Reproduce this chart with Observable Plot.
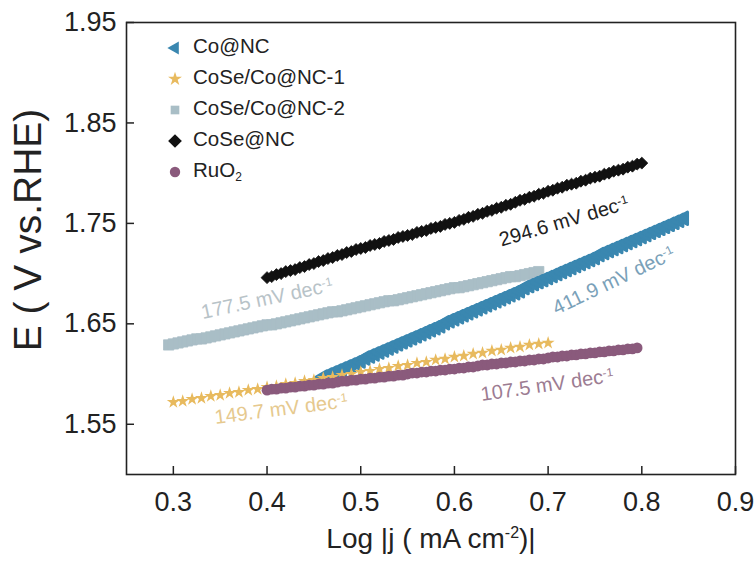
<!DOCTYPE html>
<html><head><meta charset="utf-8">
<script src="https://cdn.jsdelivr.net/npm/d3@7"></script>
<script src="https://cdn.jsdelivr.net/npm/@observablehq/plot@0.6"></script>
<style>
body{margin:0;background:#fff;}
#chart{width:755px;height:562px;position:relative;}
</style>
</head><body><div id="chart"></div>
<script>
// ---- data ----
const seriesNames = ["Co@NC", "CoSe/Co@NC-1", "CoSe/Co@NC-2", "CoSe@NC", "RuO2"];
const xTicks = [0.3, 0.4, 0.5, 0.6, 0.7, 0.8, 0.9];
const yTicks = [1.55, 1.65, 1.75, 1.85, 1.95];

// shared log|j| sampling grid
const logJ = [0.295,0.300,0.305,0.310,0.315,0.320,0.325,0.330,0.335,0.340,0.345,0.350,0.355,0.360,0.365,0.370,0.375,0.380,0.385,0.390,0.395,
0.400,0.405,0.410,0.415,0.420,0.425,0.430,0.435,0.440,0.445,0.450,0.455,0.460,0.465,0.470,0.475,0.480,0.485,0.490,0.495,
0.500,0.505,0.510,0.515,0.520,0.525,0.530,0.535,0.540,0.545,0.550,0.555,0.560,0.565,0.570,0.575,0.580,0.585,0.590,0.595,
0.600,0.605,0.610,0.615,0.620,0.625,0.630,0.635,0.640,0.645,0.650,0.655,0.660,0.665,0.670,0.675,0.680,0.685,0.690,0.695,
0.700,0.705,0.710,0.715,0.720,0.725,0.730,0.735,0.740,0.745,0.750,0.755,0.760,0.765,0.770,0.775,0.780,0.785,0.790,0.795,
0.800,0.805,0.810,0.815,0.820,0.825,0.830,0.835,0.840,0.845];

// CoSe@NC, from log|j| = 0.400
const coseNC_E = [1.696,1.697,1.699,1.700,1.702,1.703,1.704,1.706,1.707,1.709,1.710,1.712,1.713,1.715,1.716,1.718,1.719,1.721,1.722,1.724,
1.725,1.726,1.728,1.729,1.730,1.732,1.733,1.734,1.736,1.737,1.738,1.739,1.741,1.742,1.743,1.745,1.746,1.747,1.749,1.750,
1.751,1.753,1.754,1.756,1.757,1.759,1.760,1.762,1.763,1.765,1.766,1.768,1.769,1.771,1.773,1.774,1.776,1.777,1.779,1.780,
1.782,1.783,1.785,1.786,1.788,1.789,1.790,1.792,1.793,1.795,1.796,1.797,1.799,1.800,1.802,1.803,1.804,1.806,1.807,1.809,1.810];

// CoSe/Co@NC-2, from log|j| = 0.295
const coseCo2_E = [1.629,1.630,1.631,1.632,1.633,1.634,1.635,1.635,1.636,1.637,1.638,1.639,1.640,1.641,1.642,1.643,1.644,1.645,1.646,1.647,
1.648,1.649,1.649,1.650,1.651,1.652,1.653,1.654,1.655,1.656,1.657,1.658,1.659,1.660,1.661,1.662,1.662,1.663,1.664,1.665,
1.666,1.667,1.668,1.669,1.670,1.671,1.672,1.673,1.673,1.674,1.675,1.676,1.677,1.678,1.679,1.680,1.681,1.682,1.683,1.684,
1.685,1.686,1.686,1.687,1.688,1.689,1.690,1.691,1.692,1.693,1.694,1.695,1.696,1.697,1.697,1.698,1.699,1.700,1.701,1.702];

// Co@NC, from log|j| = 0.460
const coNC_E = [1.597,1.599,1.601,1.603,1.605,1.607,1.609,1.611,1.613,1.616,1.618,1.620,1.622,1.624,1.626,1.628,1.630,1.632,1.634,1.636,
1.638,1.640,1.642,1.644,1.646,1.648,1.651,1.653,1.655,1.657,1.659,1.661,1.663,1.665,1.667,1.669,1.671,1.673,1.675,1.677,
1.679,1.681,1.683,1.686,1.688,1.690,1.692,1.694,1.696,1.698,1.700,1.702,1.704,1.706,1.708,1.710,1.712,1.714,1.716,1.719,
1.721,1.723,1.725,1.727,1.729,1.731,1.733,1.735,1.737,1.739,1.741,1.743,1.745,1.747,1.749,1.751,1.753,1.755];

// RuO2, from log|j| = 0.400
const ruo2_E = [1.584,1.585,1.585,1.586,1.586,1.587,1.587,1.588,1.588,1.589,1.589,1.590,1.590,1.591,1.591,1.592,1.593,1.593,1.594,1.594,
1.595,1.595,1.596,1.596,1.597,1.597,1.598,1.598,1.599,1.599,1.600,1.601,1.601,1.602,1.602,1.603,1.603,1.604,1.604,1.605,
1.605,1.606,1.606,1.607,1.607,1.608,1.609,1.609,1.610,1.610,1.611,1.611,1.612,1.612,1.613,1.613,1.614,1.614,1.615,1.615,
1.616,1.617,1.617,1.618,1.618,1.619,1.619,1.620,1.620,1.621,1.621,1.622,1.622,1.623,1.623,1.624,1.624,1.625,1.625,1.626];

// CoSe/Co@NC-1 (stars are sparser)
const starLogJ = [0.30,0.31,0.32,0.33,0.34,0.35,0.36,0.37,0.38,0.39,0.40,0.41,0.42,0.43,0.44,0.45,0.46,0.47,0.48,0.49,
0.50,0.51,0.52,0.53,0.54,0.55,0.56,0.57,0.58,0.59,0.60,0.61,0.62,0.63,0.64,0.65,0.66,0.67,0.68,0.69,0.70];
const coseCo1_E = [1.572,1.573,1.575,1.576,1.578,1.579,1.581,1.582,1.584,1.585,1.587,1.588,1.590,1.591,1.593,1.594,1.596,1.597,1.599,1.600,
1.602,1.603,1.605,1.606,1.608,1.609,1.611,1.612,1.614,1.615,1.617,1.618,1.620,1.621,1.623,1.624,1.626,1.627,1.629,1.630,1.631];

// Tafel slope annotations (data coordinates)
const annoText = ["294.6 mV dec", "411.9 mV dec", "177.5 mV dec", "149.7 mV dec", "107.5 mV dec"];
const annoX = [0.717, 0.770, 0.400, 0.415, 0.699];
const annoY = [1.752, 1.693, 1.675, 1.565, 1.589];
const annoAngle = [-16.5, -25.5, -12, -7.2, -8.3];

// ---- styling ----
const FONT = "'Liberation Sans', Arial, Helvetica, sans-serif";
const colors = {"Co@NC": "#3a87b0", "CoSe/Co@NC-1": "#e8ba5e", "CoSe/Co@NC-2": "#a9bec6", "CoSe@NC": "#111111", "RuO2": "#8a5a7c"};
const annoColors = ["#222222", "#7aa1b9", "#b8c3c8", "#e6c98e", "#9c7c92"];

function fromGrid(x0, ys) {
  const i0 = logJ.findIndex(v => Math.abs(v - x0) < 1e-9);
  return ys.map((e, k) => ({x: logJ[i0 + k], y: e}));
}
const dCoseNC = fromGrid(0.400, coseNC_E);
const dCoseCo2 = fromGrid(0.295, coseCo2_E);
const dCoNC = fromGrid(0.460, coNC_E);
const dRuO2 = fromGrid(0.400, ruo2_E);
const dCoseCo1 = starLogJ.map((x, k) => ({x, y: coseCo1_E[k]}));
const annos = annoText.map((t, k) => ({t, x: annoX[k], y: annoY[k], a: annoAngle[k], c: annoColors[k]}));

const W = 755, H = 562;
const plot = Plot.plot({
  width: W, height: H,
  marginLeft: 126, marginRight: 20, marginTop: 22, marginBottom: 88,
  style: {fontFamily: FONT, fontSize: "27px", color: "#222", background: "#fff", overflow: "visible"},
  x: {domain: [0.25, 0.9]},
  y: {domain: [1.5, 1.95]},
  marks: [
    Plot.dot(dCoseNC, {x: "x", y: "y", symbol: "diamond2", r: 5.4, fill: colors["CoSe@NC"], stroke: colors["CoSe@NC"], strokeWidth: 0.8}),
    Plot.dot(dCoseCo2, {x: "x", y: "y", symbol: "square", r: 5.8, fill: colors["CoSe/Co@NC-2"], stroke: colors["CoSe/Co@NC-2"], strokeWidth: 0.8}),
    Plot.dot(dCoNC, {x: "x", y: "y", symbol: "triangle", r: 4.6, rotate: -90, fill: colors["Co@NC"], stroke: colors["Co@NC"], strokeWidth: 3, strokeLinejoin: "round"}),
    Plot.dot(dCoseCo1, {x: "x", y: "y", symbol: "star", r: 4.1, fill: colors["CoSe/Co@NC-1"]}),
    Plot.dot(dRuO2, {x: "x", y: "y", symbol: "circle", r: 5.4, fill: colors["RuO2"]}),
    Plot.text(annos, {x: "x", y: "y", text: "t", rotate: "a", fill: "c", fontSize: 20, textAnchor: "middle"}),
    Plot.axisX({ticks: xTicks, tickFormat: d3.format(".1f"), tickSize: -8, tickPadding: 25, strokeWidth: 1.5, label: null}),
    Plot.axisY({ticks: yTicks, tickFormat: d3.format(".2f"), tickSize: -8, tickPadding: 18, strokeWidth: 1.5, label: null}),
    Plot.frame({stroke: "#222", strokeWidth: 1.6})
  ]
});
document.getElementById("chart").appendChild(plot);

const svg = d3.select(plot);
// superscripts on Tafel annotations
svg.selectAll("text").each(function() {
  const t = this.textContent;
  if (/ dec$/.test(t) && this.childElementCount === 0) {
    d3.select(this).append("tspan").attr("dy", "-0.5em").attr("font-size", "0.6em").text("-1");
  }
});

// axis titles
svg.append("text")
  .attr("transform", "translate(31,230) rotate(-90)")
  .attr("text-anchor", "middle").attr("dominant-baseline", "middle")
  .attr("font-family", FONT).attr("font-size", 39).attr("fill", "#222")
  .text("E ( V vs.RHE)");
const xl = svg.append("text")
  .attr("x", 431).attr("y", 548)
  .attr("text-anchor", "middle")
  .attr("font-family", FONT).attr("font-size", 28).attr("fill", "#222");
xl.append("tspan").text("Log |j ( mA cm");
xl.append("tspan").attr("dy", -10).attr("font-size", 16).text("-2");
xl.append("tspan").attr("dy", 10).text(")|");

// legend
const legend = svg.append("g").attr("font-family", FONT).attr("font-size", 20.5).attr("fill", "#222").attr("text-anchor", "start");
const legSym = {
  "Co@NC": {s: d3.symbolTriangle, size: 75, rot: -90},
  "CoSe/Co@NC-1": {s: d3.symbolStar, size: 60, rot: 0},
  "CoSe/Co@NC-2": {s: d3.symbolSquare, size: 75, rot: 0},
  "CoSe@NC": {s: d3.symbolDiamond2, size: 120, rot: 0},
  "RuO2": {s: d3.symbolCircle, size: 85, rot: 0}
};
const legRowY = [48, 79, 110, 141, 172];
seriesNames.forEach((name, i) => {
  const g = legend.append("g").attr("transform", `translate(175,${legRowY[i]})`);
  const m = legSym[name];
  g.append("path").attr("d", d3.symbol(m.s, m.size)()).attr("transform", `rotate(${m.rot})`).attr("fill", colors[name]);
  const tx = g.append("text").attr("x", 18).attr("dominant-baseline", "middle").attr("text-anchor", "start");
  if (name === "RuO2") {
    tx.append("tspan").text("RuO");
    tx.append("tspan").attr("dy", 6).attr("font-size", 12).text("2");
  } else {
    tx.text(name);
  }
});
</script>
</body></html>
